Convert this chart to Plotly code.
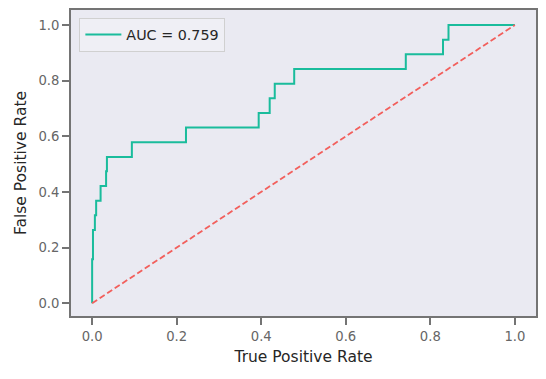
import plotly.graph_objects as go

# ROC curve corner points
fpr = [0.0, 0.0, 0.002, 0.002, 0.0065, 0.0065, 0.0095, 0.0095, 0.020, 0.020,
       0.033, 0.033, 0.035, 0.035, 0.094, 0.094, 0.222, 0.222, 0.394, 0.394,
       0.420, 0.420, 0.432, 0.432, 0.478, 0.478, 0.742, 0.742, 0.830, 0.830,
       0.843, 0.843, 1.0]
tpr = [0.0, 0.158, 0.158, 0.263, 0.263, 0.316, 0.316, 0.368, 0.368, 0.421,
       0.421, 0.474, 0.474, 0.526, 0.526, 0.579, 0.579, 0.632, 0.632, 0.684,
       0.684, 0.737, 0.737, 0.789, 0.789, 0.842, 0.842, 0.895, 0.895, 0.947,
       0.947, 1.0, 1.0]
diag_x = [0.0, 1.0]
diag_y = [0.0, 1.0]
auc_label = "AUC = 0.759"
x_title = "True Positive Rate"
y_title = "False Positive Rate"
tick_vals = [0.0, 0.2, 0.4, 0.6, 0.8, 1.0]
tick_text = ["0.0", "0.2", "0.4", "0.6", "0.8", "1.0"]

fig = go.Figure()
fig.add_trace(go.Scatter(x=fpr, y=tpr, mode="lines", name=auc_label,
                         line=dict(color="#1ABC9C", width=2)))
fig.add_trace(go.Scatter(x=diag_x, y=diag_y, mode="lines", showlegend=False,
                         line=dict(color="#F25F5C", width=1.8, dash="6px,3px")))

axis_common = dict(
    showgrid=False, zeroline=False, showline=True, mirror=True,
    linecolor="#747474", linewidth=1.8, automargin=True,
    ticks="outside", ticklen=7, tickwidth=1.5, tickcolor="#747474",
    tickvals=tick_vals, ticktext=tick_text,
    tickfont=dict(family="DejaVu Sans", size=13.2, color="#666666"),
    title_font=dict(family="DejaVu Sans", size=15.5, color="#262626"),
)

# page body has an 8px default margin, so the figure is sized/offset to compensate
fig.update_layout(
    width=538, height=371,
    margin=dict(l=63, r=10, t=0, b=63),
    paper_bgcolor="white", plot_bgcolor="#EAEAF2",
    font=dict(family="DejaVu Sans"),
    xaxis=dict(range=[-0.05, 1.05], title=dict(text=x_title, standoff=8), **axis_common),
    yaxis=dict(range=[-0.046, 1.054], title=dict(text=y_title, standoff=8), **axis_common),
    legend=dict(x=0.018, y=0.975, xanchor="left", yanchor="top",
                itemwidth=36,
                bgcolor="rgba(240,240,245,0.9)", bordercolor="#D0D0D0", borderwidth=1,
                font=dict(family="DejaVu Sans", size=14.3, color="#262626")),
    showlegend=True,
)

fig.write_html("out.html")
